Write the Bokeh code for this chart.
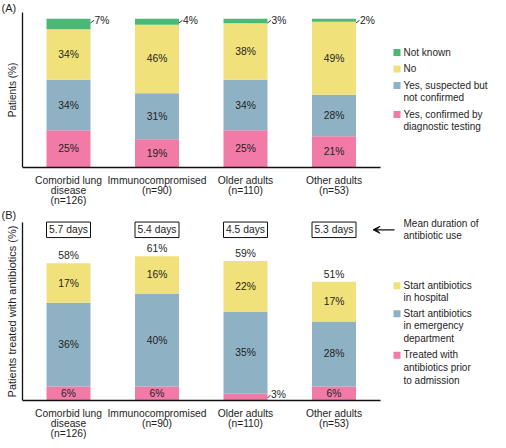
import numpy as np
from bokeh.plotting import figure
from bokeh.models import (ColumnDataSource, FixedTicker, Arrow, VeeHead, Range1d)
from bokeh.layouts import column
from bokeh.embed import file_html
from bokeh.resources import INLINE
from bokeh.core.properties import value

# ---------------- data ----------------
groups = ["Comorbid lung disease", "Immunocompromised", "Older adults", "Other adults"]
tick_labels = ["Comorbid lung\ndisease\n(n=126)", "Immunocompromised\n(n=90)",
               "Older adults\n(n=110)", "Other adults\n(n=53)"]

# Panel A: infection status (%)
a_labels = ["Yes, confirmed by\ndiagnostic testing", "Yes, suspected but\nnot confirmed",
            "No", "Not known"]
a_confirmed = [25, 19, 25, 21]
a_suspected = [34, 31, 34, 28]
a_no = [34, 46, 38, 49]
a_not_known = [7, 4, 3, 2]

# Panel B: antibiotic treatment (%)
b_labels = ["Treated with\nantibiotics prior\nto admission",
            "Start antibiotics\nin emergency\ndepartment",
            "Start antibiotics\nin hospital"]
b_prior = [6, 6, 3, 6]
b_ed = [36, 40, 35, 28]
b_hospital = [17, 16, 22, 17]
b_total = [58, 61, 59, 51]
mean_days = [5.7, 5.4, 4.5, 5.3]

# ---------------- style / layout ----------------
PINK, BLUE, YELLOW, GREEN = "#f27aa6", "#8fb1c4", "#f1e17a", "#4cb878"
FONT = "Liberation Sans"
FS = "10.3px"
TXT = "#1e1e1e"
W = 490
PXU = 88.5                      # pixels per x unit
X0 = 1 - 68 / PXU
X_END = X0 + W / PXU
Y_AXIS_X = X0 + 22 / PXU
AX_END = X0 + 380 / PXU
BAR_W = 44 / PXU
xs = list(range(1, len(groups) + 1))
right_edge = [x + BAR_W / 2 for x in xs]

A_FH, A_BOT, A_PX = 167, 38, 1.487      # frame height, bottom border, px per %
B_FH, B_BOT, B_PX = 191, 36, 2.326


def make_fig(fh, bot, px, axis_top_px, tag, tag_y, ylabel, ylabel_size):
    ymax = fh / px
    p = figure(frame_width=W, frame_height=fh, x_range=Range1d(X0, X_END),
               y_range=Range1d(0, ymax), output_backend="svg", toolbar_location=None,
               min_border_left=0, min_border_right=0, min_border_top=0,
               min_border_bottom=bot)
    p.grid.visible = False
    p.outline_line_color = None
    xa = p.xaxis[0]
    xa.ticker = FixedTicker(ticks=xs)
    xa.major_label_overrides = {x: lab for x, lab in zip(xs, tick_labels)}
    xa.bounds = (Y_AXIS_X, AX_END)
    xa.major_tick_line_color = None
    xa.minor_tick_line_color = None
    xa.axis_line_color = "#111111"
    xa.axis_line_width = 1.3
    xa.major_label_text_font = FONT
    xa.major_label_text_font_size = FS
    xa.major_label_text_color = TXT
    xa.major_label_standoff = 1
    xa.major_label_text_line_height = 0.94
    ya = p.yaxis[0]
    ya.fixed_location = Y_AXIS_X
    ya.bounds = (0, (fh - axis_top_px) / px)
    ya.ticker = FixedTicker(ticks=[])
    ya.major_tick_line_color = None
    ya.minor_tick_line_color = None
    ya.major_label_standoff = 0
    ya.axis_line_color = "#111111"
    ya.axis_line_width = 1.3
    ya.axis_label = ylabel
    ya.axis_label_text_font = FONT
    ya.axis_label_text_font_size = ylabel_size
    ya.axis_label_text_font_style = "normal"
    ya.axis_label_text_color = TXT
    ya.axis_label_standoff = 5
    p.text(x=[X0 + 1 / PXU], y=[(fh - tag_y) / px], text=[tag], text_align="left",
           text_baseline="middle", text_font=value(FONT), text_font_size="11px",
           text_color=TXT)
    return p


def txt(p, x, y, t, align="center", baseline="middle", size=FS, **kw):
    p.text(x=x, y=y, text=t, text_align=align, text_baseline=baseline,
           text_font=value(FONT), text_font_size=size, text_color=TXT, **kw)


def manual_legend(p, to_data, labels, colors, first_line_px):
    lx = X0 + 396.5 / PXU
    tx = X0 + 403 / PXU
    ys = [to_data(v) for v in first_line_px]
    p.rect(x=[lx] * len(labels), y=ys, width=7, height=7, width_units="screen",
           height_units="screen", fill_color=colors, line_color=None)
    txt(p, [tx] * len(labels), [to_data(v - 6) for v in first_line_px], labels,
        align="left", baseline="top", size="10px", text_line_height=1.16)


# ---------------- Panel A ----------------
pA = make_fig(A_FH, A_BOT, A_PX, 12, "(A)", 7.7, "Patients (%)", "10px")
a_data = lambda yfig: (A_FH - yfig) / A_PX

srcA = ColumnDataSource(dict(x=xs, conf=a_confirmed, susp=a_suspected, no=a_no, nk=a_not_known))
pA.vbar_stack(["conf", "susp", "no", "nk"], x="x", width=BAR_W, source=srcA,
              color=[PINK, BLUE, YELLOW, GREEN], line_color=None)

a_stack = np.array([a_confirmed, a_suspected, a_no])
a_base = np.vstack([np.zeros(len(xs)), np.cumsum(a_stack, axis=0)[:-1]])
a_mid = (a_base + a_stack / 2).ravel()
txt(pA, xs * 3, list(a_mid), [f"{v}%" for v in a_stack.ravel()])

a_top = np.array(a_confirmed) + np.array(a_suspected) + np.array(a_no) + np.array(a_not_known)
pA.segment(x0=right_edge, y0=list(a_top - 2.8), x1=[r + 3.5 / PXU for r in right_edge],
           y1=list(a_top - 1.0), line_color="#333333", line_width=1)
txt(pA, [r + 4 / PXU for r in right_edge], list(a_top - 1.4),
    [f"{v}%" for v in a_not_known], align="left")

manual_legend(pA, a_data, [a_labels[3], a_labels[2], a_labels[1], a_labels[0]],
              [GREEN, YELLOW, BLUE, PINK], [52, 68.5, 85, 114])

# ---------------- Panel B ----------------
pB = make_fig(B_FH, B_BOT, B_PX, 12.5, "(B)", 5.8, "Patients treated with antibiotics (%)", "11px")
b_data = lambda yfig: (B_FH - yfig) / B_PX

srcB = ColumnDataSource(dict(x=xs, prior=b_prior, ed=b_ed, hosp=b_hospital))
pB.vbar_stack(["prior", "ed", "hosp"], x="x", width=BAR_W, source=srcB,
              color=[PINK, BLUE, YELLOW], line_color=None)

b_stack = np.array([b_prior, b_ed, b_hospital])
b_base = np.vstack([np.zeros(len(xs)), np.cumsum(b_stack, axis=0)[:-1]])
b_mid = b_base + b_stack / 2
lx, ly, lt = [], [], []
for i in range(3):
    for j in range(len(xs)):
        if b_stack[i, j] >= 5:
            lx.append(xs[j]); ly.append(b_mid[i, j]); lt.append(f"{b_stack[i, j]}%")
txt(pB, lx, ly, lt)

b_top = b_stack.sum(axis=0)
txt(pB, xs, list(b_top), [f"{v}%" for v in b_total], baseline="bottom", y_offset=-2)

small = [j for j in range(len(xs)) if b_prior[j] < 5]
pB.segment(x0=[right_edge[j] for j in small], y0=[b_prior[j] * 0.35 for j in small],
           x1=[right_edge[j] + 3 / PXU for j in small], y1=[b_prior[j] * 0.8 for j in small],
           line_color="#333333", line_width=1)
txt(pB, [right_edge[j] + 3.5 / PXU for j in small], [b_prior[j] * 0.8 for j in small],
    [f"{b_prior[j]}%" for j in small], align="left")

BOX_Y = b_data(20.3)
pB.rect(x=xs, y=[BOX_Y] * len(xs), width=BAR_W, height=15.5, height_units="screen",
        fill_color="white", line_color="#111111", line_width=1)
txt(pB, xs, [BOX_Y] * len(xs), [f"{d} days" for d in mean_days])

pB.add_layout(Arrow(end=VeeHead(size=7, fill_color="#111111", line_color="#111111"),
                    x_start=X0 + 394 / PXU, y_start=BOX_Y,
                    x_end=X0 + 372.5 / PXU, y_end=BOX_Y,
                    line_color="#111111", line_width=1.3))
txt(pB, [X0 + 403 / PXU], [b_data(19.8)], ["Mean duration of\nantibiotic use"],
    align="left", size="10px", text_line_height=1.12)

manual_legend(pB, b_data, [b_labels[2], b_labels[1], b_labels[0]],
              [YELLOW, BLUE, PINK], [76.2, 104.2, 145.7])

layout = column(pA, pB)
open("out.html", "w").write(file_html(layout, INLINE))
